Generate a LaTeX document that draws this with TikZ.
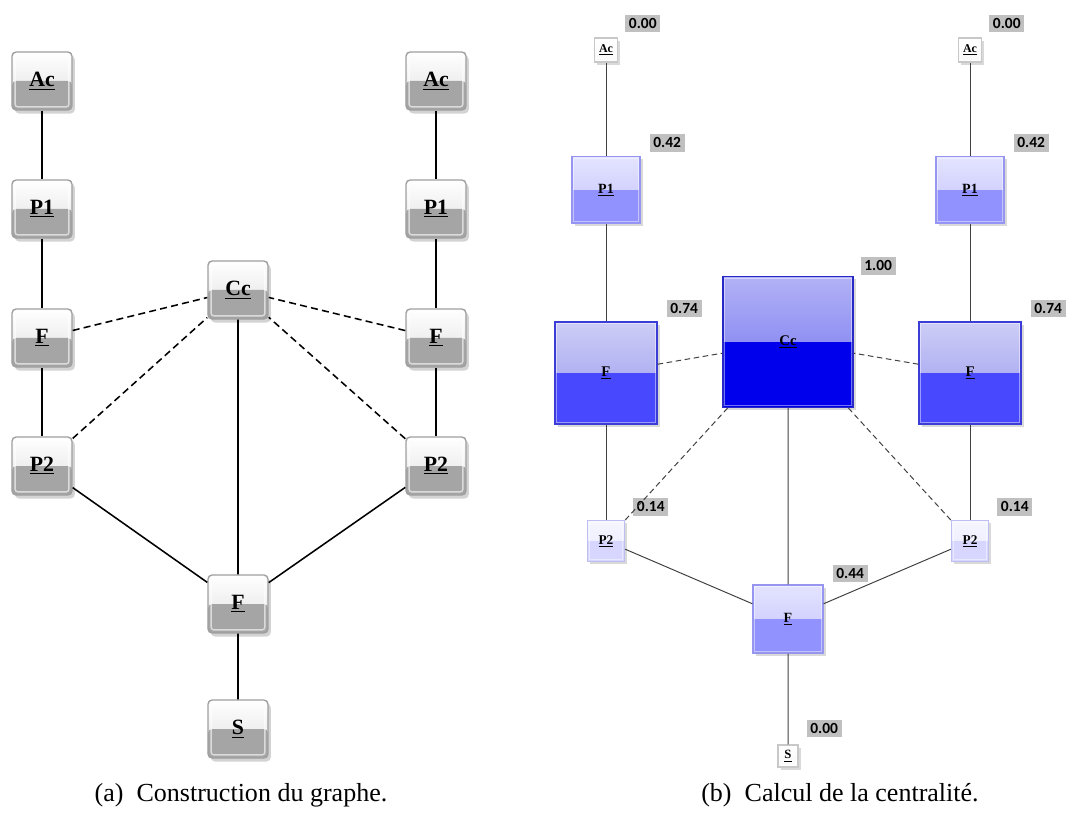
\documentclass[tikz,border=0pt]{standalone}
\usepackage{fontspec}
\setmainfont{Liberation Serif}
\newfontfamily\numfont{Carlito}
\usetikzlibrary{shadows}
\definecolor{boxgray}{RGB}{165,165,165}
\definecolor{czt}{RGB}{255,255,255}
\definecolor{czb}{RGB}{250,250,250}
\definecolor{czd}{RGB}{200,200,200}
\definecolor{cat}{RGB}{246,246,255}
\definecolor{cam}{RGB}{232,232,255}
\definecolor{cab}{RGB}{214,214,255}
\definecolor{cad}{RGB}{190,190,240}
\definecolor{cbt}{RGB}{228,228,255}
\definecolor{cbm}{RGB}{192,192,252}
\definecolor{cbb}{RGB}{146,146,255}
\definecolor{cbd}{RGB}{150,150,240}
\definecolor{cct}{RGB}{205,205,246}
\definecolor{ccm}{RGB}{150,150,240}
\definecolor{ccb}{RGB}{72,72,255}
\definecolor{ccd}{RGB}{60,60,215}
\definecolor{cdt}{RGB}{178,178,246}
\definecolor{cdm}{RGB}{110,110,240}
\definecolor{cdb}{RGB}{0,0,236}
\definecolor{cdd}{RGB}{40,40,200}
\definecolor{valgray}{RGB}{192,192,192}

\begin{document}
\begin{tikzpicture}[x=0.025cm, y=-0.025cm,
  gbox/.style={rectangle, draw=gray!75, line width=1pt, rounded corners=3pt,
    minimum width=1.5cm, minimum height=1.45cm, top color=white, bottom color=gray!25,
    path picture={\fill[boxgray] (path picture bounding box.west)
      rectangle (path picture bounding box.south east);
      \draw[white, opacity=0.6, line width=1pt, rounded corners=2pt]
        ([shift={(2.2pt,-2.2pt)}]path picture bounding box.north west)
        rectangle ([shift={(-2.2pt,2.2pt)}]path picture bounding box.south east);},
    drop shadow={opacity=0.35, shadow xshift=2pt, shadow yshift=-2.5pt},
    font=\fontsize{15.5}{18}\selectfont\bfseries},
  lvl/.style n args={4}{top color=#1, bottom color=#2, draw=#4,
    path picture={\fill[#3] (path picture bounding box.west)
      rectangle (path picture bounding box.south east);
      \draw[white, opacity=0.45, line width=0.6pt]
        ([shift={(1.3pt,-1.3pt)}]path picture bounding box.north west)
        rectangle ([shift={(-1.3pt,1.3pt)}]path picture bounding box.south east);}},
  cnode/.style={rectangle, inner sep=0pt, line width=0.8pt,
    drop shadow={opacity=0.3, shadow xshift=2pt, shadow yshift=-2pt}},
  val/.style={fill=valgray, inner sep=2.5pt, anchor=south west,
    font=\numfont\fontsize{11}{13}\selectfont\bfseries},
  aedge/.style={draw=black, line width=1.1pt},
  adash/.style={aedge, dash pattern=on 5pt off 3pt},
  bedge/.style={draw=black!75, line width=0.7pt},
  bdash/.style={bedge, dash pattern=on 4pt off 2.5pt},
  caption/.style={font=\fontsize{18.5}{22}\selectfont}]
  \useasboundingbox (0,0) rectangle (1072,819);

  % (a) construction du graphe
  \node[gbox] (aAc1) at (42,81) {\underline{Ac}};
  \node[gbox] (aP11) at (42,209) {\underline{P1}};
  \node[gbox] (aF1) at (42,338) {\underline{F}};
  \node[gbox] (aP21) at (42,466) {\underline{P2}};
  \node[gbox] (aAc2) at (436,81) {\underline{Ac}};
  \node[gbox] (aP12) at (436,209) {\underline{P1}};
  \node[gbox] (aF2) at (436,338) {\underline{F}};
  \node[gbox] (aP22) at (436,466) {\underline{P2}};
  \node[gbox] (aCc) at (238,290) {\underline{Cc}};
  \node[gbox] (aF) at (238,604) {\underline{F}};
  \node[gbox] (aS) at (238,729) {\underline{S}};
  \draw[aedge] (aAc1) -- (aP11) (aP11) -- (aF1) (aF1) -- (aP21);
  \draw[aedge] (aAc2) -- (aP12) (aP12) -- (aF2) (aF2) -- (aP22);
  \draw[adash] (aF1) -- (aCc) (aP21) -- (aCc) (aF2) -- (aCc) (aP22) -- (aCc);
  \draw[aedge] (aCc) -- (aF) (aP21) -- (aF) (aP22) -- (aF) (aF) -- (aS);
  \node[caption] (capa) at (241,795) {(a)\enspace Construction du graphe.};

  % (b) calcul de la centralite
  \node[cnode, lvl={czt}{czb}{czb}{czd}, minimum width=0.58cm, minimum height=0.6cm,
    font=\fontsize{8.5}{10}\selectfont\bfseries] (bAc1) at (606,50) {\underline{Ac}};
  \node[cnode, lvl={czt}{czb}{czb}{czd}, minimum width=0.58cm, minimum height=0.6cm,
    font=\fontsize{8.5}{10}\selectfont\bfseries] (bAc2) at (970,50) {\underline{Ac}};
  \node[cnode, lvl={cbt}{cbm}{cbb}{cbd}, minimum width=1.7cm, minimum height=1.68cm,
    font=\fontsize{10}{12}\selectfont\bfseries] (bP11) at (606,190) {\underline{P1}};
  \node[cnode, lvl={cbt}{cbm}{cbb}{cbd}, minimum width=1.7cm, minimum height=1.68cm,
    font=\fontsize{10}{12}\selectfont\bfseries] (bP12) at (970,190) {\underline{P1}};
  \node[cnode, lvl={cct}{ccm}{ccb}{ccd}, minimum size=2.55cm,
    font=\fontsize{10.5}{12}\selectfont\bfseries] (bF1) at (606,373) {\underline{F}};
  \node[cnode, lvl={cct}{ccm}{ccb}{ccd}, minimum size=2.55cm,
    font=\fontsize{10.5}{12}\selectfont\bfseries] (bF2) at (970,373) {\underline{F}};
  \node[cnode, lvl={cdt}{cdm}{cdb}{cdd}, minimum width=3.25cm, minimum height=3.28cm,
    font=\fontsize{10.5}{12}\selectfont\bfseries] (bCc) at (788,342) {\underline{Cc}};
  \node[cnode, lvl={cat}{cam}{cab}{cad}, minimum width=0.93cm, minimum height=1.03cm,
    font=\fontsize{9.5}{11}\selectfont\bfseries] (bP21) at (606,541) {\underline{P2}};
  \node[cnode, lvl={cat}{cam}{cab}{cad}, minimum width=0.93cm, minimum height=1.03cm,
    font=\fontsize{9.5}{11}\selectfont\bfseries] (bP22) at (970,541) {\underline{P2}};
  \node[cnode, lvl={cbt}{cbm}{cbb}{cbd}, minimum width=1.75cm, minimum height=1.7cm,
    font=\fontsize{10}{12}\selectfont\bfseries] (bF) at (788,619) {\underline{F}};
  \node[cnode, lvl={czt}{czb}{czb}{czd}, minimum width=0.5cm, minimum height=0.55cm,
    font=\fontsize{9}{10}\selectfont\bfseries] (bS) at (788,756) {\underline{S}};

  \node[val] (vAc1) at ([shift={(7,-5)}]bAc1.north east) {0.00};
  \node[val] (vAc2) at ([shift={(7,-5)}]bAc2.north east) {0.00};
  \node[val] (vP11) at ([shift={(9,-4)}]bP11.north east) {0.42};
  \node[val] (vP12) at ([shift={(9,-4)}]bP12.north east) {0.42};
  \node[val] (vF1) at ([shift={(9,-4)}]bF1.north east) {0.74};
  \node[val] (vF2) at ([shift={(9,-4)}]bF2.north east) {0.74};
  \node[val] (vCc) at ([shift={(7,-1)}]bCc.north east) {1.00};
  \node[val] (vP21) at ([shift={(8,-4)}]bP21.north east) {0.14};
  \node[val] (vP22) at ([shift={(8,-4)}]bP22.north east) {0.14};
  \node[val] (vF) at ([shift={(9,-2)}]bF.north east) {0.44};
  \node[val] (vS) at ([shift={(8,-7)}]bS.north east) {0.00};

  \draw[bedge] (bAc1) -- (bP11) (bP11) -- (bF1) (bF1) -- (bP21);
  \draw[bedge] (bAc2) -- (bP12) (bP12) -- (bF2) (bF2) -- (bP22);
  \draw[bdash] (bF1) -- (bCc) (bP21) -- (bCc) (bF2) -- (bCc) (bP22) -- (bCc);
  \draw[bedge] (bCc) -- (bF) (bP21) -- (bF) (bP22) -- (bF) (bF) -- (bS);
  \node[caption] (capb) at (840,795) {(b)\enspace Calcul de la centralité.};
\end{tikzpicture}
\end{document}
